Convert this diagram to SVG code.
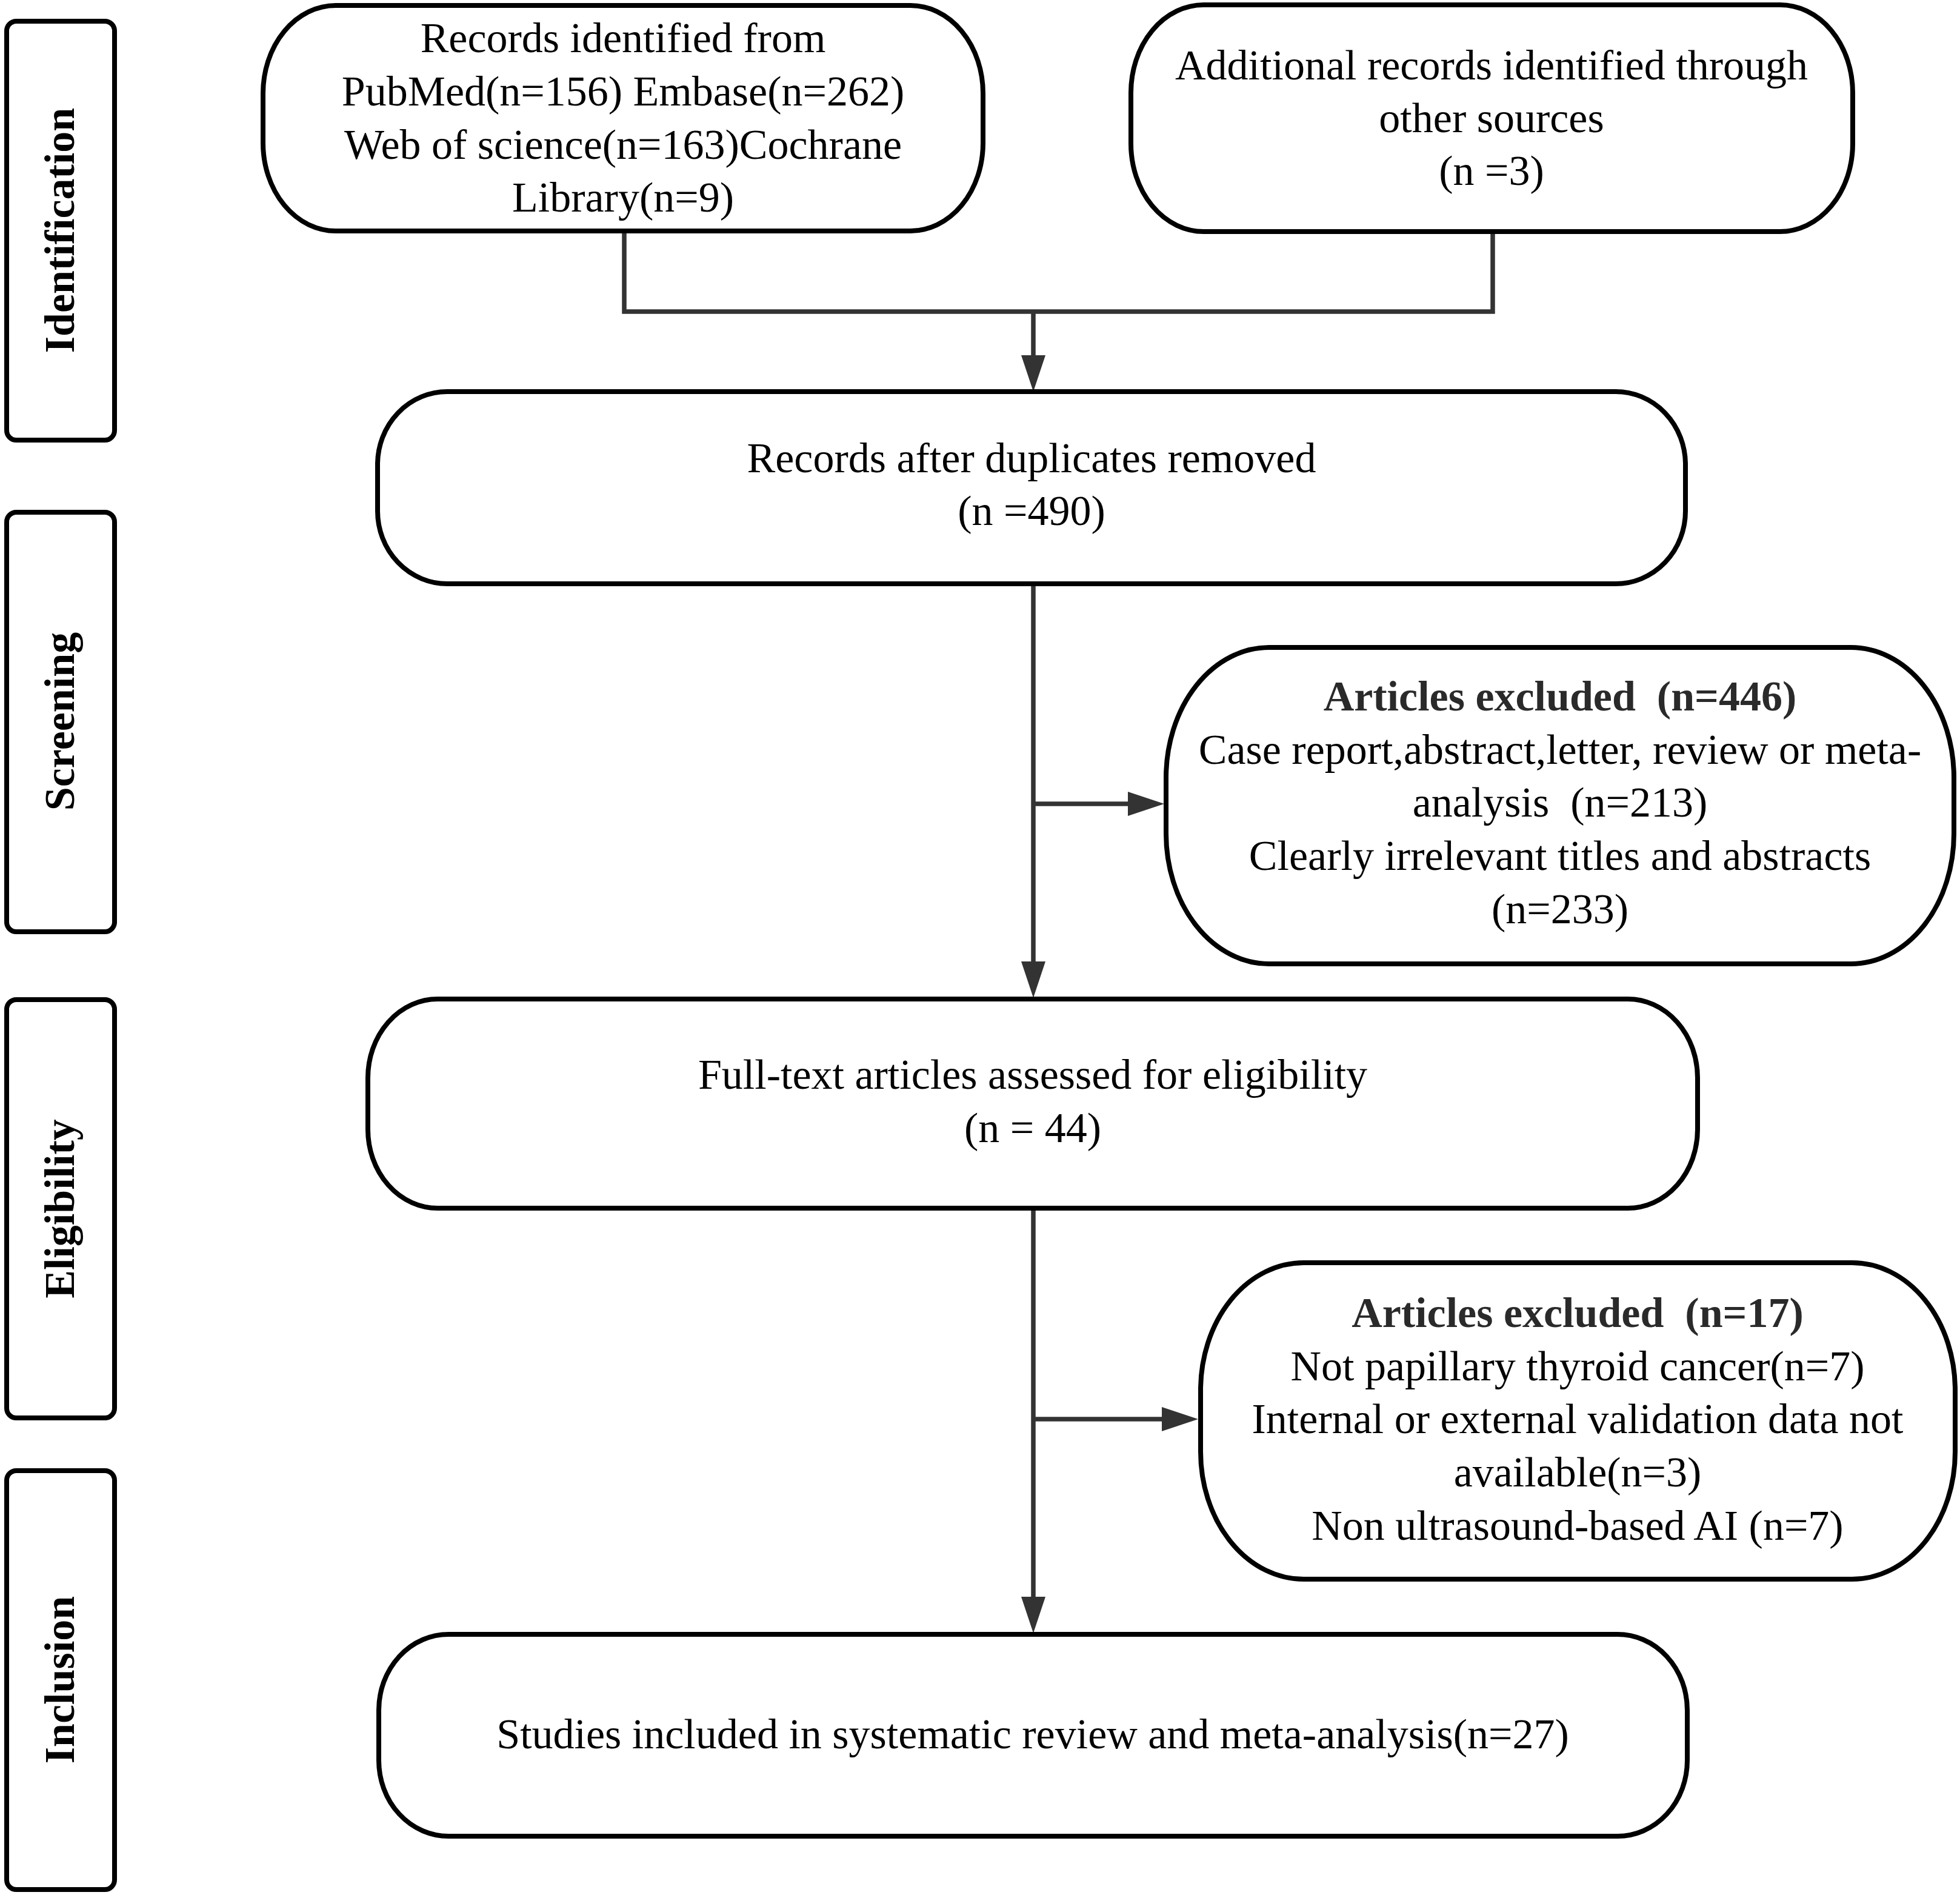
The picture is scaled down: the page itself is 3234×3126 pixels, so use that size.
<svg xmlns="http://www.w3.org/2000/svg" width="3234" height="3126" viewBox="0 0 3234 3126">
<style>
.bg{fill:#ffffff}
.side{fill:#ffffff;stroke:#000000;stroke-width:8}
.node{fill:#ffffff;stroke:#000000;stroke-width:8}
.conn{fill:none;stroke:#333333;stroke-width:7.5}
.t{font-family:"Liberation Serif","Times New Roman",serif;font-size:70px;fill:#000000;text-anchor:middle;white-space:pre}
.h{font-family:"Liberation Serif","Times New Roman",serif;font-size:70px;font-weight:bold;fill:#2a2a2a;text-anchor:middle;white-space:pre}
.s{font-family:"Liberation Serif","Times New Roman",serif;font-size:70px;font-weight:bold;fill:#000000;text-anchor:middle}
</style>
<defs>
<marker id="arrow" markerUnits="userSpaceOnUse" markerWidth="60" markerHeight="40" refX="0" refY="20" orient="auto" viewBox="0 0 60 40">
<path d="M0,0 L60,20 L0,40 Z" fill="#333333"/>
</marker>
</defs>
<rect class="bg" x="0" y="0" width="3234" height="3126"/>

<g id="side-identification">
<rect class="side" x="11" y="35" width="178" height="691" rx="16" ry="16"/>
<text class="s" transform="translate(122,380) rotate(-90)">Identification</text>
</g>
<g id="side-screening">
<rect class="side" x="11" y="845" width="178" height="692" rx="16" ry="16"/>
<text class="s" transform="translate(122,1190) rotate(-90)">Screening</text>
</g>
<g id="side-eligibility">
<rect class="side" x="11" y="1649" width="178" height="690" rx="16" ry="16"/>
<text class="s" transform="translate(122,1994) rotate(-90)">Eligibility</text>
</g>
<g id="side-inclusion">
<rect class="side" x="11" y="2426" width="178" height="691" rx="16" ry="16"/>
<text class="s" transform="translate(122,2771) rotate(-90)">Inclusion</text>
</g>

<g id="connectors">
<polyline class="conn" points="1030,381 1030,514 2463,514 2463,382"/>
<line class="conn" x1="1705" y1="514" x2="1705" y2="586" marker-end="url(#arrow)"/>
<line class="conn" x1="1705" y1="963" x2="1705" y2="1586" marker-end="url(#arrow)"/>
<line class="conn" x1="1705" y1="1326" x2="1861" y2="1326" marker-end="url(#arrow)"/>
<line class="conn" x1="1705" y1="1993" x2="1705" y2="2634" marker-end="url(#arrow)"/>
<line class="conn" x1="1705" y1="2341" x2="1917" y2="2341" marker-end="url(#arrow)"/>
</g>

<g id="node-records-identified">
<rect class="node" x="434" y="9" width="1188" height="372" rx="120" ry="145"/>
<text class="t" x="1028" y="86">Records identified from</text>
<text class="t" x="1028" y="174">PubMed(n=156) Embase(n=262)</text>
<text class="t" x="1028" y="262">Web of science(n=163)Cochrane</text>
<text class="t" x="1028" y="349">Library(n=9)</text>
</g>

<g id="node-additional-records">
<rect class="node" x="1866" y="8" width="1191" height="374" rx="120" ry="145"/>
<text class="t" x="2461" y="131">Additional records identified through</text>
<text class="t" x="2461" y="218">other sources</text>
<text class="t" x="2461" y="305">(n =3)</text>
</g>

<g id="node-after-duplicates">
<rect class="node" x="623" y="646" width="2158" height="317" rx="115" ry="120"/>
<text class="t" x="1702" y="779">Records after duplicates removed</text>
<text class="t" x="1702" y="866">(n =490)</text>
</g>

<g id="node-excluded-446">
<rect class="node" x="1924" y="1068" width="1300" height="522" rx="170" ry="215"/>
<text class="h" x="2574" y="1172">Articles excluded  (n=446)</text>
<text class="t" x="2574" y="1260">Case report,abstract,letter, review or meta-</text>
<text class="t" x="2574" y="1347">analysis  (n=213)</text>
<text class="t" x="2574" y="1435">Clearly irrelevant titles and abstracts</text>
<text class="t" x="2574" y="1523">(n=233)</text>
</g>

<g id="node-full-text">
<rect class="node" x="607" y="1648" width="2194" height="345" rx="115" ry="130"/>
<text class="t" x="1704" y="1796">Full-text articles assessed for eligibility</text>
<text class="t" x="1704" y="1884">(n = 44)</text>
</g>

<g id="node-excluded-17">
<rect class="node" x="1981" y="2083" width="1245" height="522" rx="170" ry="210"/>
<text class="h" x="2603" y="2189">Articles excluded  (n=17)</text>
<text class="t" x="2603" y="2277">Not papillary thyroid cancer(n=7)</text>
<text class="t" x="2603" y="2364">Internal or external validation data not</text>
<text class="t" x="2603" y="2452">available(n=3)</text>
<text class="t" x="2603" y="2540">Non ultrasound-based AI (n=7)</text>
</g>

<g id="node-included">
<rect class="node" x="625" y="2696" width="2159" height="333" rx="115" ry="125"/>
<text class="t" x="1704" y="2884">Studies included in systematic review and meta-analysis(n=27)</text>
</g>
</svg>
